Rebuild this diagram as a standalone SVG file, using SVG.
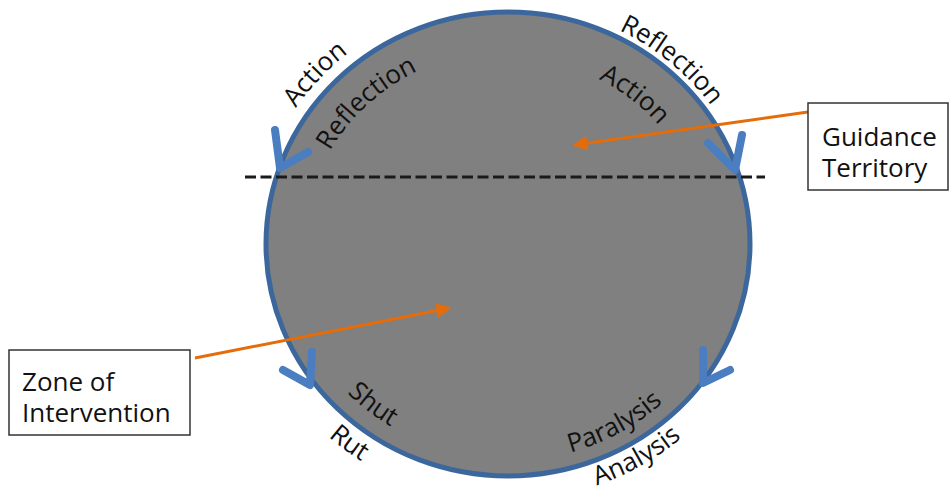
<svg xmlns="http://www.w3.org/2000/svg" width="951" height="490" viewBox="0 0 951 490">
<style>
.lbl{font-family:"Open Sans","Liberation Sans",sans-serif;font-size:26px;fill:#111}
.box{fill:#fff;stroke:#333;stroke-width:1.5}
.chev{fill:none;stroke:#4A7EC0;stroke-width:8;stroke-linecap:round;stroke-linejoin:round}
.ora{stroke:#E46C0A;stroke-width:3;fill:none}
</style>
<defs>
<marker id="oh" viewBox="0 0 10 10" refX="9" refY="5" markerWidth="5" markerHeight="5" orient="auto" markerUnits="strokeWidth">
<path d="M0,0 L10,5 L0,10 z" fill="#E46C0A"/>
</marker>
<path id="p1" d="M253.2,235.4 A255,245 0 0 1 472.5,1.4"/>
<path id="p2" d="M306.0,224.8 A203,193 0 0 1 492.8,51.5"/>
<path id="p3" d="M512.3,5.0 A249,239 0 0 1 753.9,206.6"/>
<path id="p4" d="M506.3,58.0 A196,186 0 0 1 700.7,210.1"/>
<path id="p5" d="M288.0,284.1 A224,214 0 0 0 511.1,458.0"/>
<path id="p6" d="M245.0,298.3 A269,259 0 0 0 517.9,502.8"/>
<path id="p7" d="M468.2,457.6 A227,217 0 0 0 721.2,318.6"/>
<path id="p8" d="M464.1,496.5 A266,256 0 0 0 758.7,329.5"/>
</defs>
<rect width="951" height="490" fill="#fff"/>
<g id="circle">
<ellipse cx="508" cy="244" rx="242" ry="232" fill="#808080" stroke="#3C679C" stroke-width="5"/>
</g>
<g id="cycle-arrows">
<polyline class="chev" points="275,130 280,168 308,152"/>
<polyline class="chev" points="708,143 735,170 742,135"/>
<polyline class="chev" points="283,370 310,385 312,352"/>
<polyline class="chev" points="703,350 703,383 730,370"/>
</g>
<g id="divider">
<line x1="245" y1="177" x2="765" y2="177" stroke="#1a1a1a" stroke-width="3" stroke-dasharray="11 4.5"/>
</g>
<g id="labels">
<text class="lbl"><textPath href="#p1" startOffset="50%" text-anchor="middle">Action</textPath></text>
<text class="lbl"><textPath href="#p2" startOffset="50%" text-anchor="middle">Reflection</textPath></text>
<text class="lbl"><textPath href="#p3" startOffset="50%" text-anchor="middle">Reflection</textPath></text>
<text class="lbl"><textPath href="#p4" startOffset="50%" text-anchor="middle">Action</textPath></text>
<text class="lbl"><textPath href="#p5" startOffset="50%" text-anchor="middle">Shut</textPath></text>
<text class="lbl"><textPath href="#p6" startOffset="50%" text-anchor="middle">Rut</textPath></text>
<text class="lbl"><textPath href="#p7" startOffset="50%" text-anchor="middle">Paralysis</textPath></text>
<text class="lbl"><textPath href="#p8" startOffset="50%" text-anchor="middle">Analysis</textPath></text>
</g>
<g id="connectors">
<line class="ora" x1="808" y1="112" x2="574" y2="145" marker-end="url(#oh)"/>
<line class="ora" x1="195" y1="358" x2="450" y2="308" marker-end="url(#oh)"/>
</g>
<g id="guidance">
<rect class="box" x="808" y="103" width="140" height="87"/>
<text class="lbl" x="822" y="146">Guidance</text>
<text class="lbl" x="822" y="177">Territory</text>
</g>
<g id="zone">
<rect class="box" x="9" y="350" width="181" height="85"/>
<text class="lbl" x="22" y="391">Zone of</text>
<text class="lbl" x="22" y="422">Intervention</text>
</g>
</svg>
